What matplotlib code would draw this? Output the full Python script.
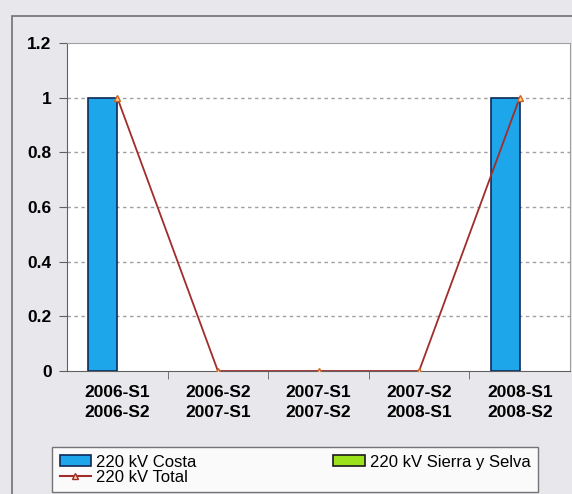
import numpy as np
import matplotlib
matplotlib.use("Agg")
import matplotlib.pyplot as plt
from matplotlib.patches import Rectangle
from matplotlib.lines import Line2D

plt.rcParams['font.family'] = ['Liberation Sans', 'DejaVu Sans']

periods = ["2006-S1\n2006-S2", "2006-S2\n2007-S1", "2007-S1\n2007-S2",
           "2007-S2\n2008-S1", "2008-S1\n2008-S2"]
costa = [1, 0, 0, 0, 1]
sierra_selva = [0, 0, 0, 0, 0]
total = [1, 0, 0, 0, 1]
yticks = [0, 0.2, 0.4, 0.6, 0.8, 1, 1.2]
ytick_labels = ["0", "0.2", "0.4", "0.6", "0.8", "1", "1.2"]

W, H = 572, 494
fig = plt.figure(figsize=(W / 100, H / 100), dpi=100)
fig.patch.set_facecolor('#e8e8ec')

# outer chart border
fig.patches.append(Rectangle((12 / W, -0.05), 1.0, 1 - 16 / H + 0.05,
                             transform=fig.transFigure, fill=False,
                             edgecolor='#707070', linewidth=1.2))

ax = fig.add_axes([67 / W, 1 - 371 / H, (570 - 67) / W, (371 - 43) / H])
ax.set_facecolor('white')

x = np.arange(len(periods))
bw = 0.29
blue = '#1ea6ea'
green = '#9be21c'
ax.bar(x - bw / 2, costa, bw, color=blue, edgecolor='#0f2a5a',
       linewidth=[1.2 if v else 0 for v in costa], zorder=3)
ax.bar(x + bw / 2, sierra_selva, bw, color=green, edgecolor='#1a1a1a',
       linewidth=[1.2 if v else 0 for v in sierra_selva], zorder=3)
ax.plot(x, total, color='#a12c2c', linewidth=1.3, marker='^', markersize=5,
        markerfacecolor='#ffd59a', markeredgecolor='#d0641e', zorder=4)

ax.set_ylim(0, 1.2)
ax.set_xlim(-0.5, len(periods) - 0.5)
ax.set_yticks(yticks)
ax.set_yticklabels(ytick_labels, fontsize=12.5, fontweight='bold')
ax.set_xticks(x)
ax.set_xticklabels(periods, fontsize=12.5, fontweight='bold', linespacing=1.45)
ax.set_xticks(np.arange(0.5, len(periods) - 0.5), minor=True)
ax.tick_params(axis='x', which='major', length=0, pad=10)
ax.tick_params(axis='x', which='minor', length=6, color='#606060',
               direction='out')
ax.tick_params(axis='y', length=6, color='#606060', direction='out', pad=5)

for yv in yticks[1:-1]:
    ax.axhline(yv, color='#a0a0a0', linestyle=(0, (2.5, 2.5)), linewidth=1,
               zorder=1)
for side in ['left', 'bottom']:
    ax.spines[side].set_color('#606060')
for side in ['top', 'right']:
    ax.spines[side].set_color('#a0a0a0')

handles = [
    Rectangle((0, 0), 1, 1, facecolor=blue, edgecolor='#0f2a5a', linewidth=1.2),
    Line2D([], [], color='#a12c2c', marker='^', markersize=5,
           markerfacecolor='#ffd59a', markeredgecolor='#a12c2c'),
    Rectangle((0, 0), 1, 1, facecolor=green, edgecolor='#1a1a1a', linewidth=1.2),
]
labels = ["220 kV Costa", "220 kV Total", "220 kV Sierra y Selva"]
leg = fig.legend(handles, labels, ncol=2, loc='upper left',
                 bbox_to_anchor=(52 / W, 1 - 452 / H, (538 - 52) / W, 0.01),
                 mode='expand', fontsize=12, frameon=True, fancybox=False,
                 handlelength=1.9, handleheight=0.6, handletextpad=0.3,
                 labelspacing=0.0, borderpad=0.45, borderaxespad=0)
leg.get_frame().set_edgecolor('#555555')
leg.get_frame().set_facecolor('white')
leg.get_frame().set_linewidth(1)

fig.savefig('out.png', dpi=100, facecolor=fig.get_facecolor())
